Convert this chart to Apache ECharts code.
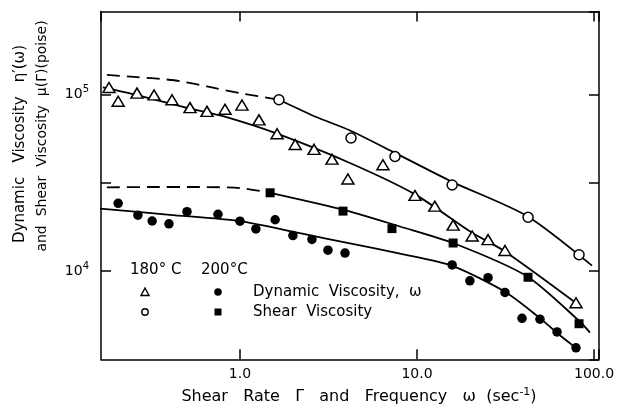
<!DOCTYPE html>
<html><head><meta charset="utf-8">
<script src="https://cdn.jsdelivr.net/npm/echarts@6/dist/echarts.min.js"></script>
<style>html,body{margin:0;padding:0;background:#fff}#c{width:618px;height:416px}</style>
</head><body><div id="c"></div>
<script>
// ---- tick labels ----
const xTickLabels = {0: '1.0', 1: '10.0', 2: '100.0'};
const yTickLabels = {4: '{b|10}{s|4}', 5: '{b|10}{s|5}'};

// ---- measured points [rate/frequency (1/s), viscosity (poise)] ----
const dyn180 = [[0.182,109600],[0.205,91500],[0.262,101800],[0.327,99400],[0.413,93300],[0.522,84300],[0.651,80200],[0.823,82500],[1.026,87100],[1.28,71800],[1.62,59900],[2.05,52100],[2.62,48900],[3.31,43000],[4.07,33200],[6.42,40000],[9.74,26800],[12.6,23300],[16.0,18200],[20.5,15800],[25.2,15060],[31.4,13070],[79.1,6610]];
const shear180 = [[1.66,93400],[4.24,56700],[7.51,44500],[15.8,30700],[42.4,20180],[82.3,12370]];
const dyn200 = [[0.205,24170],[0.265,20730],[0.319,19200],[0.397,18500],[0.502,21690],[0.751,20950],[1.0,19170],[1.23,17310],[1.58,19520],[1.99,15880],[2.55,15100],[3.14,13120],[3.92,12640],[15.8,10820],[19.9,8800],[25.2,9170],[31.4,7560],[39.2,5400],[49.5,5340],[61.8,4520],[79.1,3675]];
const shear200 = [[1.48,27740],[3.82,21850],[7.22,17390],[16.0,14410],[42.4,9220],[82.3,5030]];

// ---- fitted curves ----
const fitShear180Dash = [[0.177,129100],[0.262,125400],[0.353,122600],[0.458,119000],[0.651,111100],[1.0,101800],[1.66,93400]];
const fitShear180 = [[1.66,93400],[2.72,74270],[4.13,62900],[7.41,47000],[15.8,32000],[41.8,20500],[97.4,10730]];
const fitDyn180 = [[0.168,109600],[0.262,99200],[0.522,83200],[0.802,75300],[1.62,59950],[4.18,40910],[9.74,27180],[20.5,16460],[31.4,12910],[80.2,6525]];
const fitShear200Dash = [[0.177,29760],[0.310,29920],[0.594,29920],[1.0,29490],[1.48,27740]];
const fitShear200 = [[1.48,27740],[3.92,22140],[8.02,17870],[16.0,14410],[41.8,9340],[83.4,5160],[94.9,4477]];
const fitDyn200 = [[0.162,22590],[0.402,20810],[1.0,19170],[2.18,16370],[4.18,14350],[8.02,12530],[15.8,10700],[31.4,7630],[49.5,5410],[61.8,4457],[78.1,3707]];

const FONT = 'DejaVu Sans';
const chart = echarts.init(document.getElementById('c'));

function xFmt(v) {
  const e = Math.log10(v);
  const r = Math.round(e);
  return Math.abs(e - r) < 1e-6 && xTickLabels[r] !== undefined ? xTickLabels[r] : '';
}
function yFmt(v) {
  const e = Math.log10(v);
  const r = Math.round(e);
  return Math.abs(e - r) < 1e-6 && yTickLabels[r] !== undefined ? yTickLabels[r] : '';
}

const axisLine = {show: true, onZero: false, lineStyle: {color: '#000', width: 1.5}};
const axisTick = {show: true, inside: true, length: 10, lineStyle: {color: '#000', width: 1.5}};
const X_MIN = 0.164, X_MAX = 106.7, Y_MIN = Math.pow(10, 3.5), Y_MAX = Math.pow(10, 5.47);

function fit(data, dashed) {
  return {type: 'line', xAxisIndex: 0, yAxisIndex: 0, data: data, smooth: 0.25, showSymbol: false, silent: true, z: 2,
    lineStyle: {color: '#000', width: 1.8, type: dashed ? [13, 7] : 'solid'}};
}
function pts(data, symbol, size, filled) {
  return {type: 'scatter', xAxisIndex: 0, yAxisIndex: 0, data: data, symbol: symbol, symbolSize: size, z: 5,
    itemStyle: {color: filled ? '#000' : '#fff', borderColor: '#000', borderWidth: filled ? 0 : 1.5, opacity: 1}};
}
function txt(x, y, s, size, extra) {
  const base = {type: 'text', x: x, y: y, style: {text: s, fill: '#000', font: size + 'px "' + FONT + '"', align: 'left', verticalAlign: 'middle'}};
  if (extra) {
    if (extra.style) Object.assign(base.style, extra.style);
    if (extra.rotation !== undefined) base.rotation = extra.rotation;
  }
  return base;
}

const option = {
  animation: false,
  backgroundColor: '#fff',
  grid: {left: 101, right: 19, top: 11.5, bottom: 56.7, containLabel: false},
  xAxis: [
    {type: 'log', logBase: 10, min: X_MIN, max: X_MAX, position: 'bottom', axisLine: axisLine, axisTick: axisTick,
      splitLine: {show: false}, minorTick: {show: false},
      axisLabel: {show: true, formatter: xFmt, color: '#000', fontFamily: FONT, fontSize: 14, margin: 8, showMinLabel: false}},
    {type: 'log', logBase: 10, min: X_MIN, max: X_MAX, position: 'top', axisLine: axisLine, axisTick: axisTick,
      splitLine: {show: false}, axisLabel: {show: false}}
  ],
  yAxis: [
    {type: 'log', logBase: 10, min: Y_MIN, max: Y_MAX, interval: 0.5, position: 'left', axisLine: axisLine, axisTick: axisTick,
      splitLine: {show: false},
      axisLabel: {show: true, formatter: yFmt, color: '#000', margin: 12, showMinLabel: false, showMaxLabel: false,
        rich: {b: {fontFamily: FONT, fontSize: 14, color: '#000'}, s: {fontFamily: FONT, fontSize: 10, color: '#000', padding: [0, 0, 10, 0]}}}},
    {type: 'log', logBase: 10, min: Y_MIN, max: Y_MAX, interval: 0.5, position: 'right', axisLine: axisLine, axisTick: axisTick,
      splitLine: {show: false}, axisLabel: {show: false}}
  ],
  series: [
    fit(fitShear180Dash, true), fit(fitShear180, false), fit(fitDyn180, false),
    fit(fitShear200Dash, true), fit(fitShear200, false), fit(fitDyn200, false),
    pts(dyn180, 'triangle', [12, 10], false),
    pts(shear180, 'circle', 10, false),
    pts(dyn200, 'circle', 9.5, true),
    pts(shear200, 'rect', 9, true)
  ],
  graphic: [
    txt(359, 397, 'Shear   Rate   Γ   and   Frequency   ω  (sec{s|-1})', 16,
      {style: {align: 'center', rich: {s: {fontSize: 11, fontFamily: FONT, padding: [0, 0, 10, 0]}}}}),
    txt(20, 144, 'Dynamic   Viscosity   η′(ω)', 15, {rotation: Math.PI / 2, style: {align: 'center'}}),
    txt(42, 136, 'and  Shear  Viscosity  μ(Γ)(poise)', 14, {rotation: Math.PI / 2, style: {align: 'center'}}),
    txt(130, 270, '180° C', 15),
    txt(201, 270, '200°C', 15),
    {type: 'polygon', shape: {points: [[145, 288], [141, 295.5], [149, 295.5]]}, style: {fill: '#fff', stroke: '#000', lineWidth: 1.4}},
    {type: 'circle', shape: {cx: 218, cy: 292, r: 3.8}, style: {fill: '#000'}},
    {type: 'circle', shape: {cx: 145, cy: 312, r: 3.2}, style: {fill: '#fff', stroke: '#000', lineWidth: 1.4}},
    {type: 'rect', shape: {x: 214.5, y: 308.5, width: 7, height: 7}, style: {fill: '#000'}},
    txt(253, 292, 'Dynamic  Viscosity,  ω', 15),
    txt(253, 312, 'Shear  Viscosity', 15)
  ]
};
chart.setOption(option);
</script>
</body></html>
